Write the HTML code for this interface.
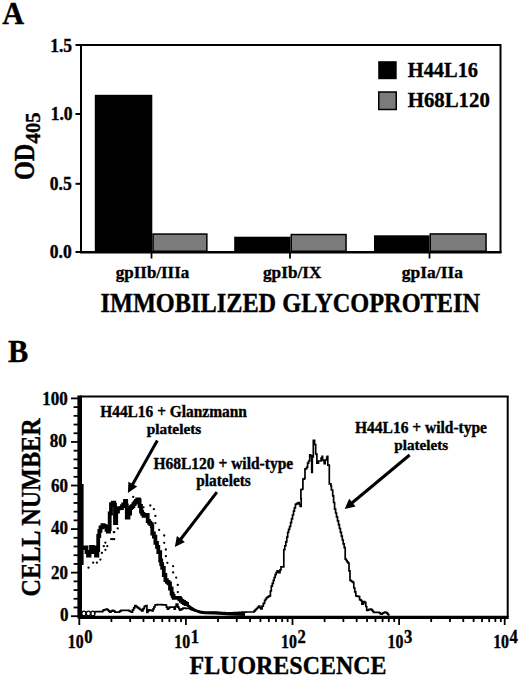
<!DOCTYPE html>
<html><head><meta charset="utf-8"><style>
html,body{margin:0;padding:0;background:#fff;width:520px;height:676px;overflow:hidden}
text{font-family:"Liberation Serif",serif;font-weight:bold;fill:#000}
</style></head><body>
<svg width="520" height="676" viewBox="0 0 520 676" font-family="Liberation Serif" font-weight="bold" style="display:block"><text transform="matrix(0.9773 0 0 1.0143 2.30 23.50)" font-size="31" stroke="#000" stroke-width="0.35">A</text>
<rect x="94.8" y="94.8" width="57.500000000000014" height="157.2" fill="#000" stroke="none" stroke-width="0"/>
<rect x="153.05" y="234.05" width="53.79999999999998" height="17.19999999999999" fill="#7b7b7b" stroke="#000" stroke-width="1.5"/>
<rect x="234.2" y="236.7" width="56.30000000000001" height="15.300000000000011" fill="#000" stroke="none" stroke-width="0"/>
<rect x="291.25" y="234.55" width="54.80000000000001" height="16.69999999999999" fill="#7b7b7b" stroke="#000" stroke-width="1.5"/>
<rect x="374" y="235.3" width="55.5" height="16.69999999999999" fill="#000" stroke="none" stroke-width="0"/>
<rect x="430.25" y="233.95" width="55.80000000000001" height="17.30000000000001" fill="#7b7b7b" stroke="#000" stroke-width="1.5"/>
<rect x="81" y="45" width="419.5" height="207" fill="none" stroke="#000" stroke-width="2"/>
<line x1="80" y1="252.3" x2="501.5" y2="252.3" stroke="#000" stroke-width="2.4" />
<line x1="75.5" y1="45" x2="81" y2="45" stroke="#000" stroke-width="2" />
<line x1="75.5" y1="114" x2="81" y2="114" stroke="#000" stroke-width="2" />
<line x1="75.5" y1="183.8" x2="81" y2="183.8" stroke="#000" stroke-width="2" />
<line x1="75.5" y1="252" x2="81" y2="252" stroke="#000" stroke-width="2" />
<text transform="matrix(1.0300 0 0 1.1100 50.17 52.16)" font-size="17" stroke="#000" stroke-width="0.35">1.5</text>
<text transform="matrix(1.0300 0 0 1.1100 50.67 119.81)" font-size="17" stroke="#000" stroke-width="0.35">1.0</text>
<text transform="matrix(1.0300 0 0 1.1100 49.77 190.05)" font-size="17" stroke="#000" stroke-width="0.35">0.5</text>
<text transform="matrix(1.0300 0 0 1.1100 49.77 257.75)" font-size="17" stroke="#000" stroke-width="0.35">0.0</text>
<text transform="matrix(0.9973 0 0 1.0400 115.80 277.70)" font-size="17" stroke="#000" stroke-width="0.35">gpIIb/IIIa</text>
<text transform="matrix(1.0140 0 0 1.0400 263.00 277.70)" font-size="17" stroke="#000" stroke-width="0.35">gpIb/IX</text>
<text transform="matrix(1.0288 0 0 1.0400 401.80 277.70)" font-size="17" stroke="#000" stroke-width="0.35">gpIa/IIa</text>
<text transform="matrix(1.0136 0 0 1.1133 100.49 311.80)" font-size="24" stroke="#000" stroke-width="0.35">IMMOBILIZED GLYCOPROTEIN</text>
<text transform="matrix(0 -1.0118 1.1867 0 33.70 180.01)" font-size="24" stroke="#000" stroke-width="0.35">OD</text>
<text transform="matrix(0 -1.0414 1.0143 0 39.60 143.50)" font-size="20" stroke="#000" stroke-width="0.35">405</text>
<text transform="matrix(1.0203 0 0 1.0643 407.80 77.10)" font-size="20" stroke="#000" stroke-width="0.35">H44L16</text>
<text transform="matrix(1.0397 0 0 1.0643 407.80 107.40)" font-size="20" stroke="#000" stroke-width="0.35">H68L120</text>
<line x1="151.5" y1="252" x2="151.5" y2="258.5" stroke="#000" stroke-width="1.8" />
<line x1="290" y1="252" x2="290" y2="258.5" stroke="#000" stroke-width="1.8" />
<line x1="429.5" y1="252" x2="429.5" y2="258.5" stroke="#000" stroke-width="1.8" />
<rect x="378.2" y="61.2" width="18.5" height="18" fill="#000" stroke="none" stroke-width="0"/>
<rect x="378.75" y="92" width="17.5" height="17.5" fill="#7b7b7b" stroke="#000" stroke-width="1.5"/>
<text transform="matrix(0.9800 0 0 1.0238 8.10 361.50)" font-size="31" stroke="#000" stroke-width="0.35">B</text>
<line x1="79.5" y1="396.5" x2="508.7" y2="396.5" stroke="#000" stroke-width="2" />
<line x1="507.7" y1="396.5" x2="507.7" y2="617" stroke="#000" stroke-width="2" />
<line x1="79.5" y1="617.3" x2="508.7" y2="617.3" stroke="#000" stroke-width="3.3" />
<rect x="77.4" y="395.5" width="4.6" height="223" fill="#000" stroke="none" stroke-width="0"/>
<line x1="71" y1="616.2" x2="78" y2="616.2" stroke="#000" stroke-width="1.8" />
<line x1="73.6" y1="607.488" x2="78" y2="607.488" stroke="#000" stroke-width="1.8" />
<line x1="73.6" y1="598.7760000000001" x2="78" y2="598.7760000000001" stroke="#000" stroke-width="1.8" />
<line x1="73.6" y1="590.0640000000001" x2="78" y2="590.0640000000001" stroke="#000" stroke-width="1.8" />
<line x1="73.6" y1="581.3520000000001" x2="78" y2="581.3520000000001" stroke="#000" stroke-width="1.8" />
<line x1="71" y1="572.6400000000001" x2="78" y2="572.6400000000001" stroke="#000" stroke-width="1.8" />
<line x1="73.6" y1="563.928" x2="78" y2="563.928" stroke="#000" stroke-width="1.8" />
<line x1="73.6" y1="555.216" x2="78" y2="555.216" stroke="#000" stroke-width="1.8" />
<line x1="73.6" y1="546.504" x2="78" y2="546.504" stroke="#000" stroke-width="1.8" />
<line x1="73.6" y1="537.792" x2="78" y2="537.792" stroke="#000" stroke-width="1.8" />
<line x1="71" y1="529.08" x2="78" y2="529.08" stroke="#000" stroke-width="1.8" />
<line x1="73.6" y1="520.368" x2="78" y2="520.368" stroke="#000" stroke-width="1.8" />
<line x1="73.6" y1="511.65600000000006" x2="78" y2="511.65600000000006" stroke="#000" stroke-width="1.8" />
<line x1="73.6" y1="502.9440000000001" x2="78" y2="502.9440000000001" stroke="#000" stroke-width="1.8" />
<line x1="73.6" y1="494.2320000000001" x2="78" y2="494.2320000000001" stroke="#000" stroke-width="1.8" />
<line x1="71" y1="485.52000000000004" x2="78" y2="485.52000000000004" stroke="#000" stroke-width="1.8" />
<line x1="73.6" y1="476.80800000000005" x2="78" y2="476.80800000000005" stroke="#000" stroke-width="1.8" />
<line x1="73.6" y1="468.09600000000006" x2="78" y2="468.09600000000006" stroke="#000" stroke-width="1.8" />
<line x1="73.6" y1="459.384" x2="78" y2="459.384" stroke="#000" stroke-width="1.8" />
<line x1="73.6" y1="450.672" x2="78" y2="450.672" stroke="#000" stroke-width="1.8" />
<line x1="71" y1="441.96000000000004" x2="78" y2="441.96000000000004" stroke="#000" stroke-width="1.8" />
<line x1="73.6" y1="433.24800000000005" x2="78" y2="433.24800000000005" stroke="#000" stroke-width="1.8" />
<line x1="73.6" y1="424.53600000000006" x2="78" y2="424.53600000000006" stroke="#000" stroke-width="1.8" />
<line x1="73.6" y1="415.82400000000007" x2="78" y2="415.82400000000007" stroke="#000" stroke-width="1.8" />
<line x1="73.6" y1="407.1120000000001" x2="78" y2="407.1120000000001" stroke="#000" stroke-width="1.8" />
<line x1="71" y1="398.4000000000001" x2="78" y2="398.4000000000001" stroke="#000" stroke-width="1.8" />
<text transform="matrix(1.0000 0 0 1.0650 42.30 404.61)" font-size="17" stroke="#000" stroke-width="0.35">100</text>
<text transform="matrix(1.0000 0 0 1.0650 49.70 447.26)" font-size="17" stroke="#000" stroke-width="0.35">80</text>
<text transform="matrix(1.0000 0 0 1.0650 51.10 491.51)" font-size="17" stroke="#000" stroke-width="0.35">60</text>
<text transform="matrix(1.0000 0 0 1.0650 51.10 534.11)" font-size="17" stroke="#000" stroke-width="0.35">40</text>
<text transform="matrix(1.0000 0 0 1.0650 51.10 578.51)" font-size="17" stroke="#000" stroke-width="0.35">20</text>
<text transform="matrix(1.0000 0 0 1.0650 60.10 621.21)" font-size="17" stroke="#000" stroke-width="0.35">0</text>
<text transform="matrix(0.9985 0 0 1.0800 189.50 674.20)" font-size="24" stroke="#000" stroke-width="0.35">FLUORESCENCE</text>
<text transform="matrix(0 -1.0080 1.1733 0 39.50 596.41)" font-size="24" stroke="#000" stroke-width="0.35">CELL NUMBER</text>
<text transform="matrix(1.0273 0 0 1.0500 100.20 417.00)" font-size="15" stroke="#000" stroke-width="0.35">H44L16 + Glanzmann</text>
<text transform="matrix(1.0226 0 0 1.0308 146.80 434.11)" font-size="15" stroke="#000" stroke-width="0.35">platelets</text>
<text transform="matrix(1.0333 0 0 1.0923 153.50 468.62)" font-size="15" stroke="#000" stroke-width="0.35">H68L120 + wild-type</text>
<text transform="matrix(1.0226 0 0 1.0462 196.30 485.96)" font-size="15" stroke="#000" stroke-width="0.35">platelets</text>
<text transform="matrix(1.0336 0 0 1.0692 355.00 432.59)" font-size="15" stroke="#000" stroke-width="0.35">H44L16 + wild-type</text>
<text transform="matrix(1.0094 0 0 1.0000 394.30 449.50)" font-size="15" stroke="#000" stroke-width="0.35">platelets</text>
<line x1="79.3" y1="617" x2="79.3" y2="625" stroke="#000" stroke-width="1.8" />
<line x1="111.3897975377804" y1="617" x2="111.3897975377804" y2="622" stroke="#000" stroke-width="1.8" />
<line x1="130.161125753116" y1="617" x2="130.161125753116" y2="622" stroke="#000" stroke-width="1.8" />
<line x1="143.47959507556078" y1="617" x2="143.47959507556078" y2="622" stroke="#000" stroke-width="1.8" />
<line x1="153.8102024622196" y1="617" x2="153.8102024622196" y2="622" stroke="#000" stroke-width="1.8" />
<line x1="162.25092329089642" y1="617" x2="162.25092329089642" y2="622" stroke="#000" stroke-width="1.8" />
<line x1="169.38745106551977" y1="617" x2="169.38745106551977" y2="622" stroke="#000" stroke-width="1.8" />
<line x1="175.56939261334117" y1="617" x2="175.56939261334117" y2="622" stroke="#000" stroke-width="1.8" />
<line x1="181.022251506232" y1="617" x2="181.022251506232" y2="622" stroke="#000" stroke-width="1.8" />
<line x1="185.89999999999998" y1="617" x2="185.89999999999998" y2="625" stroke="#000" stroke-width="1.8" />
<line x1="217.98979753778042" y1="617" x2="217.98979753778042" y2="622" stroke="#000" stroke-width="1.8" />
<line x1="236.761125753116" y1="617" x2="236.761125753116" y2="622" stroke="#000" stroke-width="1.8" />
<line x1="250.0795950755608" y1="617" x2="250.0795950755608" y2="622" stroke="#000" stroke-width="1.8" />
<line x1="260.41020246221956" y1="617" x2="260.41020246221956" y2="622" stroke="#000" stroke-width="1.8" />
<line x1="268.8509232908964" y1="617" x2="268.8509232908964" y2="622" stroke="#000" stroke-width="1.8" />
<line x1="275.9874510655198" y1="617" x2="275.9874510655198" y2="622" stroke="#000" stroke-width="1.8" />
<line x1="282.1693926133412" y1="617" x2="282.1693926133412" y2="622" stroke="#000" stroke-width="1.8" />
<line x1="287.62225150623203" y1="617" x2="287.62225150623203" y2="622" stroke="#000" stroke-width="1.8" />
<line x1="292.5" y1="617" x2="292.5" y2="625" stroke="#000" stroke-width="1.8" />
<line x1="324.5897975377804" y1="617" x2="324.5897975377804" y2="622" stroke="#000" stroke-width="1.8" />
<line x1="343.361125753116" y1="617" x2="343.361125753116" y2="622" stroke="#000" stroke-width="1.8" />
<line x1="356.6795950755608" y1="617" x2="356.6795950755608" y2="622" stroke="#000" stroke-width="1.8" />
<line x1="367.0102024622196" y1="617" x2="367.0102024622196" y2="622" stroke="#000" stroke-width="1.8" />
<line x1="375.45092329089636" y1="617" x2="375.45092329089636" y2="622" stroke="#000" stroke-width="1.8" />
<line x1="382.58745106551976" y1="617" x2="382.58745106551976" y2="622" stroke="#000" stroke-width="1.8" />
<line x1="388.7693926133412" y1="617" x2="388.7693926133412" y2="622" stroke="#000" stroke-width="1.8" />
<line x1="394.222251506232" y1="617" x2="394.222251506232" y2="622" stroke="#000" stroke-width="1.8" />
<line x1="399.09999999999997" y1="617" x2="399.09999999999997" y2="625" stroke="#000" stroke-width="1.8" />
<line x1="431.1897975377804" y1="617" x2="431.1897975377804" y2="622" stroke="#000" stroke-width="1.8" />
<line x1="449.96112575311605" y1="617" x2="449.96112575311605" y2="622" stroke="#000" stroke-width="1.8" />
<line x1="463.2795950755608" y1="617" x2="463.2795950755608" y2="622" stroke="#000" stroke-width="1.8" />
<line x1="473.6102024622196" y1="617" x2="473.6102024622196" y2="622" stroke="#000" stroke-width="1.8" />
<line x1="482.05092329089643" y1="617" x2="482.05092329089643" y2="622" stroke="#000" stroke-width="1.8" />
<line x1="489.1874510655198" y1="617" x2="489.1874510655198" y2="622" stroke="#000" stroke-width="1.8" />
<line x1="495.3693926133412" y1="617" x2="495.3693926133412" y2="622" stroke="#000" stroke-width="1.8" />
<line x1="500.822251506232" y1="617" x2="500.822251506232" y2="622" stroke="#000" stroke-width="1.8" />
<line x1="504.7" y1="617" x2="504.7" y2="625" stroke="#000" stroke-width="1.8" />
<text transform="matrix(0.9312 0 0 1.1182 67.77 648.20)" font-size="17" stroke="#000" stroke-width="0.35">10</text>
<text transform="matrix(0.9778 0 0 1.1182 84.20 642.50)" font-size="17" stroke="#000" stroke-width="0.35">0</text>
<text transform="matrix(0.9312 0 0 1.1182 174.37 648.20)" font-size="17" stroke="#000" stroke-width="0.35">10</text>
<text transform="matrix(0.9778 0 0 1.1182 190.80 642.50)" font-size="17" stroke="#000" stroke-width="0.35">1</text>
<text transform="matrix(0.9312 0 0 1.1182 280.97 648.20)" font-size="17" stroke="#000" stroke-width="0.35">10</text>
<text transform="matrix(0.9778 0 0 1.1182 297.40 642.50)" font-size="17" stroke="#000" stroke-width="0.35">2</text>
<text transform="matrix(0.9312 0 0 1.1182 387.57 648.20)" font-size="17" stroke="#000" stroke-width="0.35">10</text>
<text transform="matrix(0.9778 0 0 1.1182 404.00 642.50)" font-size="17" stroke="#000" stroke-width="0.35">3</text>
<text transform="matrix(0.9312 0 0 1.1182 493.17 648.20)" font-size="17" stroke="#000" stroke-width="0.35">10</text>
<text transform="matrix(0.9778 0 0 1.1182 509.60 642.50)" font-size="17" stroke="#000" stroke-width="0.35">4</text>
<line x1="157.3" y1="440.6" x2="132.3102143906328" y2="485.05461861802394" stroke="#000" stroke-width="3" />
<polygon points="127.9,492.9 128.4,481.7 137.2,486.6" fill="#000"/>
<line x1="216.9" y1="492.1" x2="180.2829900042072" y2="539.7629963840724" stroke="#000" stroke-width="3" />
<polygon points="174.8,546.9 176.9,535.9 184.9,542.0" fill="#000"/>
<line x1="409.6" y1="455" x2="351.61835839279627" y2="503.24358469628663" stroke="#000" stroke-width="3" />
<polygon points="344.7,509.0 349.2,498.8 355.6,506.4" fill="#000"/>
<polyline points="82.0,548.0 83.5,548.0 83.5,547.8 85.0,547.8 85.0,547.5 86.5,547.5 86.5,552.0 88.0,552.0 88.0,555.5 89.5,555.5 89.5,552.0 91.0,552.0 91.0,547.0 92.0,547.0 92.0,547.2 93.0,547.2 93.0,547.5 94.5,547.5 94.5,552.0 96.0,552.0 96.0,555.5 97.4,555.5 97.4,550.0 98.2,550.0 98.2,536.0 99.3,536.0 99.3,530.8 100.5,530.8 100.5,527.3 102.4,527.3 102.4,525.2 103.6,525.2 103.6,525.8 104.8,525.8 104.8,526.3 106.5,526.3 106.5,529.8 107.8,529.8 107.8,531.5 109.0,531.5 109.0,529.0 109.7,529.0 109.7,513.5 111.0,513.5 111.0,504.2 112.8,504.2 112.8,502.6 114.3,502.6 114.3,505.0 115.0,505.0 115.0,523.0 116.2,523.0 116.2,511.5 118.0,511.5 118.0,508.4 119.4,508.4 119.4,508.2 120.8,508.2 120.8,508.0 122.0,508.0 122.0,506.2 123.2,506.2 123.2,504.5 125.0,504.5 125.0,501.0 126.2,501.0 126.2,505.5 126.8,505.5 126.8,517.5 128.5,517.5 128.5,513.5 130.1,513.5 130.1,508.0 131.2,508.0 131.2,507.0 132.3,507.0 132.3,506.0 133.4,506.0 133.4,504.2 134.6,504.2 134.6,502.5 135.9,502.5 135.9,500.9 137.2,500.9 137.2,499.3 139.0,499.3 139.0,500.5 139.6,500.5 139.6,506.0 141.0,506.0 141.0,511.7 142.2,511.7 142.2,513.8 143.5,513.8 143.5,515.9 144.8,515.9 144.8,515.3 146.1,515.3 146.1,514.8 147.7,514.8 147.7,521.0 149.0,521.0 149.0,522.6 150.3,522.6 150.3,524.2 151.8,524.2 151.8,526.2 152.3,526.2 152.3,533.5 153.9,533.5 153.9,536.6 155.4,536.6 155.4,542.8 157.0,542.8 157.0,546.9 158.3,546.9 158.3,552.1 160.2,552.1 160.2,560.5 161.2,560.5 161.2,564.1 162.2,564.1 162.2,567.8 163.8,567.8 163.8,575.0 165.4,575.0 165.4,580.2 166.9,580.2 166.9,581.8 168.5,581.8 168.5,583.3 170.0,583.3 170.0,588.5 171.6,588.5 171.6,593.7 172.6,593.7 172.6,595.8 173.6,595.8 173.6,597.8 175.0,597.8 175.0,597.8 176.4,597.8 176.4,597.8 177.8,597.8 177.8,597.8 179.4,597.8 179.4,599.3 180.9,599.3 180.9,600.9 182.4,600.9 182.4,602.0 184.0,602.0 184.0,603.0 185.6,603.0 185.6,604.0 187.1,604.0 187.1,605.0" fill="none" stroke="#000" stroke-width="3.8" stroke-linejoin="miter" />
<polyline points="187.1,605.0 190.2,607.1 193.3,609.2 196.4,610.7 200.5,612.3 205.0,612.8 215.0,613.2 230.0,614.0 245.0,614.5" fill="none" stroke="#000" stroke-width="2.8" stroke-linejoin="miter" />
<circle cx="88.5" cy="567.7" r="1.15" fill="#000"/>
<circle cx="93.1" cy="562.7" r="1.15" fill="#000"/>
<circle cx="96.9" cy="562.7" r="1.15" fill="#000"/>
<circle cx="100.4" cy="559.6" r="1.15" fill="#000"/>
<circle cx="101.9" cy="552.9" r="1.15" fill="#000"/>
<circle cx="103.8" cy="546.2" r="1.15" fill="#000"/>
<circle cx="105.4" cy="549.8" r="1.15" fill="#000"/>
<circle cx="107.3" cy="546.2" r="1.15" fill="#000"/>
<circle cx="105.4" cy="542.7" r="1.15" fill="#000"/>
<circle cx="114.2" cy="532.2" r="1.15" fill="#000"/>
<circle cx="117.7" cy="528.4" r="1.15" fill="#000"/>
<circle cx="113.8" cy="532.1" r="1.15" fill="#000"/>
<circle cx="133.2" cy="496.9" r="1.15" fill="#000"/>
<circle cx="143.5" cy="507.3" r="1.15" fill="#000"/>
<circle cx="150.3" cy="505.5" r="1.15" fill="#000"/>
<circle cx="153.9" cy="509.2" r="1.15" fill="#000"/>
<circle cx="155.4" cy="515.9" r="1.15" fill="#000"/>
<circle cx="155.4" cy="523.1" r="1.15" fill="#000"/>
<circle cx="159.1" cy="529.9" r="1.15" fill="#000"/>
<circle cx="164.2" cy="535.5" r="1.15" fill="#000"/>
<circle cx="164.2" cy="542.8" r="1.15" fill="#000"/>
<circle cx="165.8" cy="549.5" r="1.15" fill="#000"/>
<circle cx="165.9" cy="556.2" r="1.15" fill="#000"/>
<circle cx="167.4" cy="562.8" r="1.15" fill="#000"/>
<circle cx="173.1" cy="566.2" r="1.15" fill="#000"/>
<circle cx="173.1" cy="572.4" r="1.15" fill="#000"/>
<circle cx="176.2" cy="577.6" r="1.15" fill="#000"/>
<circle cx="177.8" cy="584.9" r="1.15" fill="#000"/>
<circle cx="177.8" cy="592.1" r="1.15" fill="#000"/>
<circle cx="181" cy="597.5" r="1.15" fill="#000"/>
<circle cx="185" cy="601.5" r="1.15" fill="#000"/>
<line x1="110.2" y1="539.1" x2="115.2" y2="539.1" stroke="#000" stroke-width="2" />
<polyline points="95.0,611.6 96.2,611.6 96.2,611.6 97.3,611.6 97.3,611.6 98.5,611.6 98.5,611.6 99.7,611.6 99.7,611.6 100.8,611.6 100.8,611.6 102.0,611.6 102.0,611.6 102.8,611.6 102.8,610.4 104.0,610.4 104.0,609.9 105.1,609.9 105.1,609.5 106.3,609.5 106.3,609.0 107.2,609.0 107.2,609.7 108.0,609.7 108.0,610.4 108.8,610.4 108.8,611.2 109.7,611.2 109.7,612.1 111.0,612.1 111.0,611.2 112.3,611.2 112.3,610.4 113.6,610.4 113.6,611.2 114.9,611.2 114.9,612.1 116.1,612.1 116.1,612.1 117.2,612.1 117.2,612.1 118.4,612.1 118.4,612.1 119.7,612.1 119.7,611.2 121.0,611.2 121.0,610.4 122.2,610.4 122.2,610.4 123.3,610.4 123.3,610.4 124.5,610.4 124.5,610.4 125.6,610.4 125.6,610.4 126.8,610.4 126.8,610.4 127.9,610.4 127.9,610.4 129.1,610.4 129.1,611.0 130.2,611.0 130.2,611.5 131.4,611.5 131.4,612.1 132.5,612.1 132.5,609.9 133.7,609.9 133.7,607.8 134.8,607.8 134.8,605.6 136.0,605.6 136.0,606.5 137.1,606.5 137.1,607.3 138.3,607.3 138.3,608.2 139.4,608.2 139.4,609.1 140.6,609.1 140.6,609.9 141.7,609.9 141.7,610.8 143.0,610.8 143.0,608.6 144.3,608.6 144.3,606.4 145.2,606.4 145.2,606.0 146.1,606.0 146.1,605.6 146.9,605.6 146.9,612.5 147.8,612.5 147.8,611.2 148.7,611.2 148.7,609.9 149.8,609.9 149.8,610.2 151.0,610.2 151.0,610.5 152.1,610.5 152.1,610.8 153.1,610.8 153.1,608.9 154.0,608.9 154.0,606.9 155.0,606.9 155.0,605.0 156.0,605.0 156.0,604.8 157.1,604.8 157.1,604.7 158.1,604.7 158.1,604.5 159.1,604.5 159.1,604.6 160.2,604.6 160.2,604.6 161.2,604.6 161.2,604.7 162.3,604.7 162.3,604.8 163.3,604.8 163.3,604.9 164.4,604.9 164.4,604.9 165.4,604.9 165.4,605.0 166.4,605.0 166.4,607.1 167.4,607.1 167.4,609.2 168.4,609.2 168.4,608.2 169.5,608.2 169.5,607.1 170.5,607.1 170.5,607.1 171.6,607.1 171.6,607.1 172.6,607.1 172.6,607.1 173.6,607.1 173.6,607.1 174.2,607.1 174.2,609.2 175.2,609.2 175.2,606.6 176.2,606.6 176.2,604.0 177.8,604.0 177.8,607.1 178.8,607.1 178.8,608.7 179.8,608.7 179.8,610.2 180.9,610.2 180.9,609.5 181.9,609.5 181.9,608.8 183.0,608.8 183.0,608.1 184.2,608.1 184.2,608.2 185.3,608.2 185.3,608.3 186.5,608.3 186.5,608.3 187.6,608.3 187.6,608.4 188.8,608.4 188.8,608.5 189.8,608.5 189.8,608.9 190.9,608.9 190.9,609.3 191.9,609.3 191.9,609.8 192.9,609.8 192.9,610.2 194.0,610.2 194.0,610.6 195.0,610.6 195.0,611.0 196.1,611.0 196.1,611.1 197.3,611.1 197.3,611.3 198.4,611.3 198.4,611.4 199.6,611.4 199.6,611.6 200.7,611.6 200.7,611.7 201.9,611.7 201.9,611.9 203.0,611.9 203.0,612.0 204.1,612.0 204.1,612.0 205.2,612.0 205.2,612.0 206.2,612.0 206.2,612.0 207.3,612.0 207.3,612.0 208.4,612.0 208.4,612.0 209.5,612.0 209.5,612.0 210.5,612.0 210.5,612.0 211.6,612.0 211.6,612.0 212.7,612.0 212.7,612.0 213.8,612.0 213.8,612.1 214.9,612.1 214.9,612.1 216.0,612.1 216.0,612.2 217.1,612.2 217.1,612.3 218.2,612.3 218.2,612.4 219.3,612.4 219.3,612.4 220.3,612.4 220.3,612.5 221.4,612.5 221.4,612.6 222.5,612.6 222.5,612.6 223.6,612.6 223.6,612.7 224.7,612.7 224.7,612.8 225.8,612.8 225.8,612.9 226.9,612.9 226.9,612.9 228.0,612.9 228.0,613.0 229.1,613.0 229.1,612.9 230.2,612.9 230.2,612.9 231.2,612.9 231.2,612.8 232.3,612.8 232.3,612.8 233.4,612.8 233.4,612.7 234.5,612.7 234.5,612.6 235.5,612.6 235.5,612.6 236.6,612.6 236.6,612.5 237.7,612.5 237.7,612.5 238.8,612.5 238.8,612.4 239.8,612.4 239.8,612.4 240.9,612.4 240.9,612.3 242.0,612.3 242.0,612.2 243.1,612.2 243.1,612.2 244.1,612.2 244.1,612.1 245.2,612.1 245.2,612.1 246.3,612.1 246.3,612.0 247.4,612.0 247.4,612.0 248.5,612.0 248.5,612.0 249.7,612.0 249.7,612.0 250.8,612.0 250.8,612.0 251.9,612.0 251.9,612.0 253.0,612.0 253.0,612.0 254.2,612.0 254.2,610.8 255.3,610.8 255.3,609.7 256.5,609.7 256.5,608.5 257.6,608.5 257.6,607.4 258.8,607.4 258.8,606.2 259.8,606.2 259.8,607.6 260.8,607.6 260.8,609.0 262.1,609.0 262.1,606.1 263.3,606.1 263.3,603.3 264.6,603.3 264.6,600.4 265.6,600.4 265.6,599.0 266.5,599.0 266.5,597.7 267.5,597.7 267.5,597.1 268.4,597.1 268.4,596.4 269.4,596.4 269.4,595.8 270.4,595.8 270.4,591.0 271.3,591.0 271.3,586.2 272.3,586.2 272.3,583.3 273.3,583.3 273.3,580.4 274.2,580.4 274.2,577.5 275.2,577.5 275.2,574.6 276.1,574.6 276.1,572.7 277.1,572.7 277.1,570.8 278.1,570.8 278.1,571.8 279.0,571.8 279.0,572.7 280.0,572.7 280.0,569.8 281.0,569.8 281.0,566.9 281.9,566.9 281.9,566.9 282.9,566.9 282.9,566.9 283.8,566.9 283.8,563.1 283.8,563.1 283.8,549.6 284.8,549.6 284.8,545.8 285.8,545.8 285.8,541.9 286.8,541.9 286.8,537.1 287.7,537.1 287.7,532.3 288.6,532.3 288.6,529.4 289.6,529.4 289.6,526.5 290.6,526.5 290.6,522.6 291.5,522.6 291.5,518.8 292.5,518.8 292.5,515.0 293.5,515.0 293.5,511.2 294.4,511.2 294.4,507.8 295.4,507.8 295.4,504.4 296.4,504.4 296.4,503.8 297.3,503.8 297.3,503.1 298.3,503.1 298.3,502.5 299.2,502.5 299.2,504.4 300.2,504.4 300.2,506.3 301.2,506.3 301.2,498.7 300.9,498.7 300.9,489.5 302.4,489.5 302.4,489.0 302.9,489.0 302.9,479.2 304.5,479.2 304.5,478.1 305.0,478.1 305.0,468.8 306.6,468.8 306.6,467.3 307.6,467.3 307.6,463.1 308.6,463.1 308.6,461.0 309.7,461.0 309.7,454.8 310.7,454.8 310.7,455.9 311.7,455.9 311.7,472.4 312.3,472.4 312.3,456.9 313.3,456.9 313.3,440.4 314.3,440.4 314.3,440.4 314.6,440.4 314.6,444.5 315.4,444.5 315.4,444.5 315.7,444.5 315.7,453.8 316.7,453.8 316.7,454.8 316.9,454.8 316.9,463.1 318.5,463.1 318.5,461.0 320.0,461.0 320.0,461.0 321.1,461.0 321.1,458.0 322.1,458.0 322.1,456.4 322.6,456.4 322.6,460.0 323.6,460.0 323.6,461.0 324.2,461.0 324.2,463.6 325.2,463.6 325.2,460.0 326.7,460.0 326.7,457.4 327.3,457.4 327.3,456.4 327.8,456.4 327.8,465.2 329.3,465.2 329.3,466.7 329.3,466.7 329.3,483.8 330.9,483.8 330.9,485.9 331.4,485.9 331.4,490.0 332.7,490.0 332.7,495.8 333.6,495.8 333.6,502.5 334.6,502.5 334.6,509.2 335.6,509.2 335.6,513.0 336.5,513.0 336.5,516.9 337.5,516.9 337.5,520.8 338.5,520.8 338.5,524.6 339.4,524.6 339.4,528.5 340.4,528.5 340.4,532.3 341.4,532.3 341.4,536.1 342.3,536.1 342.3,540.0 343.2,540.0 343.2,543.9 344.2,543.9 344.2,547.7 345.2,547.7 345.2,559.2 346.2,559.2 346.2,560.5 347.1,560.5 347.1,561.8 348.1,561.8 348.1,563.1 349.0,563.1 349.0,570.8 350.0,570.8 350.0,580.4 351.0,580.4 351.0,581.0 351.9,581.0 351.9,581.7 352.9,581.7 352.9,582.3 353.8,582.3 353.8,588.0 354.8,588.0 354.8,591.9 355.8,591.9 355.8,595.8 356.8,595.8 356.8,596.1 357.7,596.1 357.7,596.4 358.7,596.4 358.7,596.7 359.6,596.7 359.6,599.6 360.5,599.6 360.5,600.2 361.4,600.2 361.4,600.8 361.9,600.8 361.9,604.1 363.4,604.1 363.4,601.7 364.8,601.7 364.8,602.7 365.8,602.7 365.8,606.5 366.7,606.5 366.7,610.4 367.9,610.4 367.9,609.9 369.1,609.9 369.1,609.4 370.6,609.4 370.6,609.0 371.6,609.0 371.6,610.1 372.5,610.1 372.5,611.2 373.5,611.2 373.5,612.3 374.7,612.3 374.7,612.3 375.9,612.3 375.9,612.3 377.1,612.3 377.1,612.3 378.3,612.3 378.3,612.3 379.3,612.3 379.3,612.9 380.2,612.9 380.2,613.6 381.2,613.6 381.2,614.2 382.1,614.2 382.1,613.5 383.0,613.5 383.0,612.8 384.0,612.8 384.0,612.5 385.0,612.5 385.0,612.1 385.9,612.1 385.9,612.7 386.9,612.7 386.9,613.3 387.9,613.3 387.9,614.5 388.8,614.5 388.8,615.7" fill="none" stroke="#000" stroke-width="1.7" stroke-linejoin="miter" />
<ellipse cx="83.9" cy="613.6" rx="2.1" ry="2.4" fill="none" stroke="#000" stroke-width="1.3"/>
<ellipse cx="88.4" cy="613.6" rx="2.1" ry="2.4" fill="none" stroke="#000" stroke-width="1.3"/>
<ellipse cx="92.9" cy="613.6" rx="2.1" ry="2.4" fill="none" stroke="#000" stroke-width="1.3"/>
<polyline points="94.2,613.5 95.0,611.6" fill="none" stroke="#000" stroke-width="1.5" stroke-linejoin="miter" />
<rect x="80" y="484" width="3.6" height="81" fill="#000" stroke="none" stroke-width="0"/></svg>
</body></html>
